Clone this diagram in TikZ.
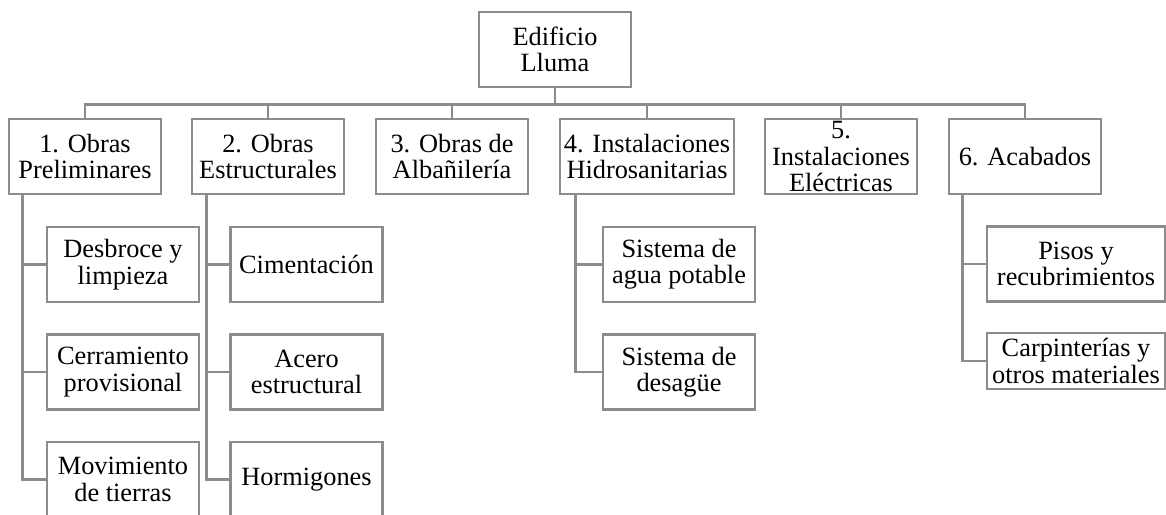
\documentclass[tikz,border=0pt]{standalone}
\usepackage{fontspec}
\setmainfont{Liberation Serif}
\definecolor{boxgray}{RGB}{140,140,140}
\tikzset{
  wbs/.style={draw=boxgray,line width=1.3pt,align=center,minimum width=3.04cm,
    minimum height=1.5cm,inner sep=1pt,font=\fontsize{15}{15}\selectfont},
  link/.style={draw=boxgray,line width=1.6pt}
}
\begin{document}
\begin{tikzpicture}[x=0.02cm,y=-0.02cm]
    \useasboundingbox (0,0) rectangle (1166,514);

    % root
    \node[wbs] (root) at (555,49.5) {Edificio\\Lluma};

    % first level
    \node[wbs] (o1) at (85,156.5) {1. Obras\\Preliminares};
    \node[wbs] (o2) at (268,156.5) {2. Obras\\Estructurales};
    \node[wbs] (o3) at (452,156.5) {3. Obras de\\Albañilería};
    \node[wbs,minimum width=3.48cm] (o4) at (647,156.5) {4. Instalaciones\\Hidrosanitarias};
    \node[wbs,inner ysep=0pt] (o5) at (841,156.5) {5.\\Instalaciones\\Eléctricas};
    \node[wbs] (o6) at (1025,156.5) {6. Acabados};

    % second level
    \node[wbs] (p1) at (123,264.5) {Desbroce y\\limpieza};
    \node[wbs] (p2) at (123,372) {Cerramiento\\provisional};
    \node[wbs] (p3) at (123,479.5) {Movimiento\\de tierras};

    \node[wbs] (e1) at (306.5,264.5) {Cimentación};
    \node[wbs] (e2) at (306.5,372) {Acero\\estructural};
    \node[wbs] (e3) at (306.5,479.5) {Hormigones};

    \node[wbs] (h1) at (679,264.5) {Sistema de\\agua potable};
    \node[wbs] (h2) at (679,372) {Sistema de\\desagüe};

    \node[wbs,minimum width=3.56cm] (a1) at (1076,264) {Pisos y\\recubrimientos};
    \node[wbs,minimum width=3.56cm,minimum height=1.12cm] (a2) at (1076,361) {Carpinterías y\\otros materiales};

    % connectors
    \draw[link] (root.south) -- ++(0,16) coordinate (bus);
    \foreach \o in {o1,o2,o3,o4,o5,o6}
        \draw[link] (bus) -| (\o.north);

    \foreach \p in {p1,p2,p3}
        \draw[link] ([xshift=0.3cm]o1.south west) |- (\p.west);
    \foreach \e in {e1,e2,e3}
        \draw[link] ([xshift=0.32cm]o2.south west) |- (\e.west);
    \foreach \h in {h1,h2}
        \draw[link] ([xshift=0.34cm]o4.south west) |- (\h.west);
    \foreach \a in {a1,a2}
        \draw[link] ([xshift=0.3cm]o6.south west) |- (\a.west);
\end{tikzpicture}
\end{document}
